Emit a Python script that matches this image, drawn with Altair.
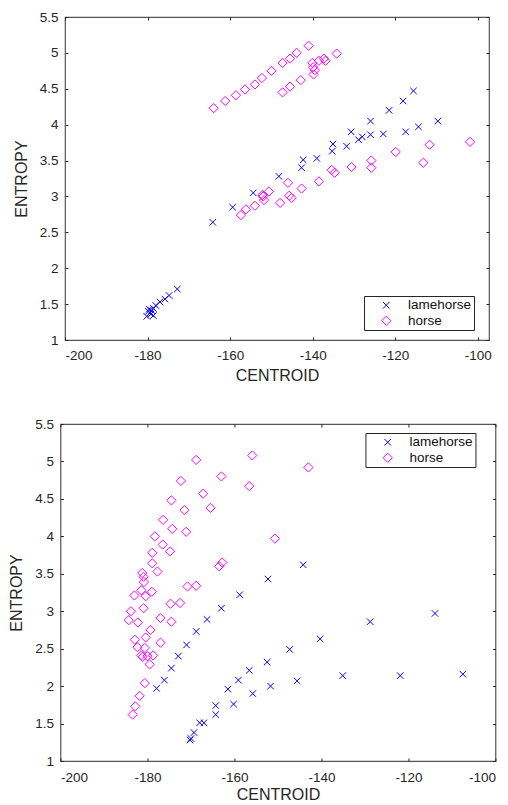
import altair as alt
import pandas as pd

SERIES = ["lamehorse", "horse"]

# ---- top panel ----
top_lame_x = [-180.2, -179.8, -179.6, -179.4, -179.2, -179.0, -178.6, -178.6, -178.0, -177.0,
              -175.8, -174.8, -172.8, -164.2, -159.4, -154.4, -148.2, -142.7, -142.3, -139.0,
              -135.3, -135.1, -131.8, -130.7, -128.9, -128.0, -126.0, -126.0, -122.9, -121.5,
              -118.1, -117.5, -115.6, -114.4, -109.7]
top_lame_y = [1.33, 1.40, 1.43, 1.38, 1.36, 1.41, 1.34, 1.44, 1.48, 1.53,
              1.57, 1.62, 1.71, 2.64, 2.85, 3.05, 3.28, 3.40, 3.51, 3.53,
              3.63, 3.73, 3.70, 3.90, 3.79, 3.83, 3.86, 4.05, 3.87, 4.20,
              4.33, 3.90, 4.47, 3.97, 4.05]
top_horse_x = [-164.0, -161.2, -158.6, -156.4, -154.0, -152.3, -150.0, -147.3, -145.5, -143.9,
               -141.0, -140.1, -139.9, -139.8, -139.5, -138.5, -137.3, -136.9, -134.2, -147.3,
               -145.5, -142.9,
               -157.4, -156.2, -154.0, -152.2, -152.0, -151.8, -150.6, -147.9, -146.0, -145.7,
               -145.1, -142.7, -138.5, -135.4, -134.7, -130.6, -125.8, -125.8, -119.9, -113.2,
               -111.7, -101.9]
top_horse_y = [4.23, 4.33, 4.41, 4.49, 4.56, 4.65, 4.75, 4.86, 4.92, 5.00,
               5.10, 4.86, 4.80, 4.70, 4.76, 4.89, 4.92, 4.89, 4.99, 4.45,
               4.53, 4.62,
               2.74, 2.82, 2.87, 3.02, 3.00, 2.95, 3.07, 2.91, 3.19, 3.01,
               2.98, 3.11, 3.21, 3.37, 3.33, 3.41, 3.50, 3.40, 3.62, 3.47,
               3.72, 3.76]

# ---- bottom panel ----
bot_lame_x = [-177.9, -176.1, -174.5, -172.9, -171.0, -168.8, -166.3, -163.0, -158.8, -152.3,
              -144.2, -170.2, -170.0, -169.3, -168.0, -167.0, -164.3, -164.3, -161.5, -160.2,
              -159.1, -156.6, -155.8, -152.5, -151.7, -147.3, -145.6, -140.3, -135.1, -128.8,
              -121.9, -113.9, -107.5]
bot_lame_y = [1.97, 2.08, 2.24, 2.40, 2.55, 2.73, 2.89, 3.04, 3.22, 3.43,
              3.62, 1.28, 1.30, 1.38, 1.51, 1.51, 1.62, 1.74, 1.96, 1.76,
              2.08, 2.21, 1.90, 2.32, 2.00, 2.49, 2.07, 2.63, 2.14, 2.86,
              2.14, 2.97, 2.16]
bot_horse_x = [-168.8, -155.9, -143.0, -172.3, -163.0, -156.6, -167.2, -174.5, -165.5, -171.5,
               -176.4, -174.3, -171.1, -178.3, -150.7, -176.5, -174.8, -178.9, -178.9, -162.8,
               -163.5, -181.2, -177.7, -180.9, -180.8, -170.8, -168.8, -181.4, -179.0, -183.0,
               -180.4, -174.7, -172.5, -180.9, -183.8, -184.3, -182.2, -177.0, -174.5, -179.3,
               -180.4, -182.9, -177.0, -182.3, -180.6, -181.4, -181.1, -180.0, -178.7, -179.5,
               -180.6, -181.8, -182.8, -183.4]
bot_horse_y = [5.02, 5.08, 4.92, 4.74, 4.80, 4.67, 4.57, 4.48, 4.38, 4.35,
               4.22, 4.10, 4.06, 4.00, 3.97, 3.89, 3.80, 3.78, 3.64, 3.65,
               3.60, 3.51, 3.53, 3.46, 3.39, 3.33, 3.34, 3.28, 3.26, 3.21,
               3.20, 3.10, 3.11, 3.04, 3.00, 2.88, 2.85, 2.91, 2.86, 2.75,
               2.65, 2.62, 2.58, 2.52, 2.51, 2.41, 2.39, 2.40, 2.41, 2.29,
               2.04, 1.87, 1.73, 1.62]

X_TICKS = [-200, -180, -160, -140, -120, -100]
Y_TICKS = [1, 1.5, 2, 2.5, 3, 3.5, 4, 4.5, 5, 5.5]

FONT = "Liberation Sans"
AXC = "#262626"
X_PATH = "M-1,-1L1,1M-1,1L1,-1"


def frame_df(lx, ly, hx, hy):
    return pd.DataFrame({
        "CENTROID": lx + hx,
        "ENTROPY": ly + hy,
        "series": [SERIES[0]] * len(lx) + [SERIES[1]] * len(hx),
    })


def panel(df, xmax, w, h, lx, ly, xlabpad, xtitlepad):
    xs = alt.Scale(domain=[-200, xmax], nice=False, zero=False)
    ys = alt.Scale(domain=[1, 5.5], nice=False, zero=False)
    common = dict(domain=False, grid=False, ticks=True, tickSize=3, tickColor=AXC,
                  tickWidth=1, offset=-3, labelExpr="'' + datum.value")
    lab = dict(labelFont=FONT, labelFontSize=13.5, labelColor=AXC,
               titleFont=FONT, titleFontSize=16, titleColor=AXC, titleFontWeight="normal")
    xaxis = alt.Axis(orient="bottom", values=X_TICKS, title="CENTROID", labelPadding=xlabpad,
                     titlePadding=xtitlepad, **common, **lab)
    yaxis = alt.Axis(orient="left", values=Y_TICKS, title="ENTROPY", labelPadding=7, titlePadding=10,
                     **common, **lab)
    leg = alt.Legend(title=None, orient="none", legendX=lx, legendY=ly,
                     strokeColor=AXC, fillColor="white", padding=2.5,
                     labelFont=FONT, labelFontSize=13.5, labelColor="#111111",
                     rowPadding=0.5, symbolOffset=13, labelOffset=15,
                     symbolStrokeWidth=1)
    pts = alt.Chart(df).mark_point(filled=False, strokeWidth=1, opacity=1).encode(
        x=alt.X("CENTROID:Q", scale=xs, axis=xaxis),
        y=alt.Y("ENTROPY:Q", scale=ys, axis=yaxis),
        color=alt.Color("series:N", scale=alt.Scale(domain=SERIES, range=["#0000FF", "#FF00FF"]), legend=leg),
        shape=alt.Shape("series:N", scale=alt.Scale(domain=SERIES, range=[X_PATH, "diamond"]), legend=leg),
        size=alt.Size("series:N", scale=alt.Scale(domain=SERIES, range=[42, 85]), legend=leg),
    )
    mirror = alt.Chart(df).mark_point(opacity=0).encode(
        x=alt.X("CENTROID:Q", scale=xs,
                axis=alt.Axis(orient="top", values=X_TICKS, labels=False, title=None, **common)),
        y=alt.Y("ENTROPY:Q", scale=ys,
                axis=alt.Axis(orient="right", values=Y_TICKS, labels=False, title=None, **common)),
    )
    return alt.layer(pts, mirror).resolve_axis(x="independent", y="independent").properties(width=w, height=h)


top = panel(frame_df(top_lame_x, top_lame_y, top_horse_x, top_horse_y),
            -97.3, 424, 323, 299, 279, 8, 6)
bottom = panel(frame_df(bot_lame_x, bot_lame_y, bot_horse_x, bot_horse_y),
               -100, 435, 337, 305, 9, 9, 3)

chart = alt.vconcat(top, bottom, spacing=31, center=True).resolve_scale(
    color="independent", shape="independent", size="independent"
).resolve_legend(
    color="independent", shape="independent", size="independent"
).properties(
    padding={"left": 0, "top": 1, "right": 0, "bottom": 0}
).configure_view(stroke="#555555", strokeWidth=1.2)

chart.save("out.html", embed_options={"renderer": "svg", "actions": False})
